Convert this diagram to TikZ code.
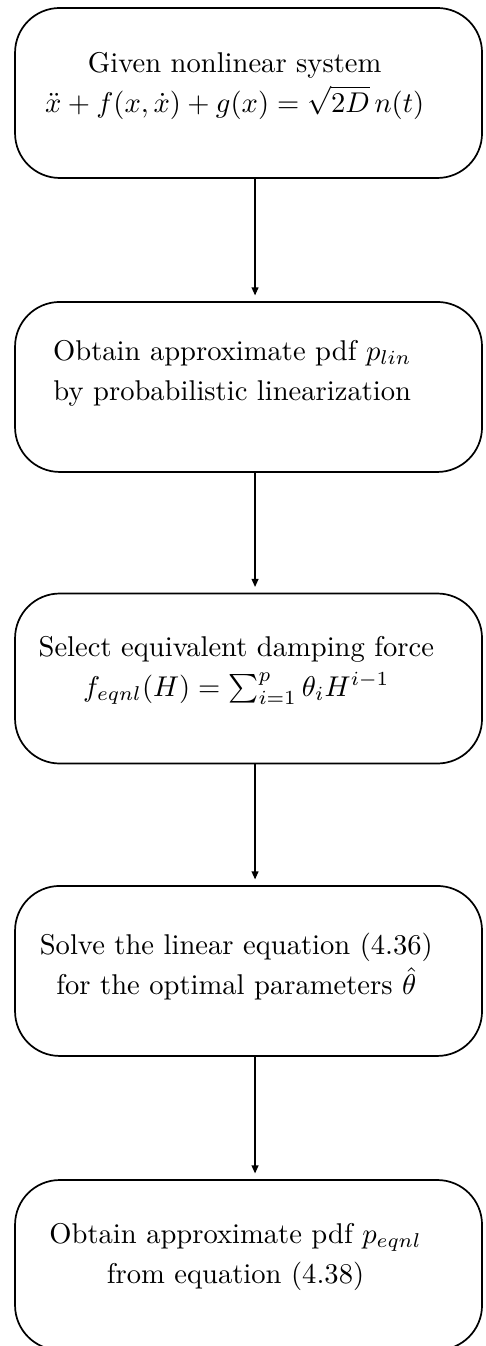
\documentclass[tikz,border=0pt]{standalone}
\usepackage{amsmath,amssymb}
\usepackage{tikz}
\usetikzlibrary{arrows.meta}

\begin{document}
\begin{tikzpicture}[>={Triangle[length=2.8pt,width=2.4pt]},
  stepbox/.style={draw,line width=0.6pt,rounded corners=0.55cm,minimum width=5.744cm,minimum height=2.091cm,inner sep=0pt},
  steptext/.style={align=center,inner sep=0pt,font=\fontsize{10}{14}\selectfont},
  flow/.style={->,line width=0.45pt,shorten >=2pt}]
\useasboundingbox (0,0) rectangle (5.966,16.556);
\node[stepbox] (given) at (3.057,15.412) {};
\node[stepbox] (lin) at (3.057,11.796) {};
\node[stepbox] (select) at (3.057,8.21) {};
\node[stepbox] (solve) at (3.057,4.613) {};
\node[stepbox] (eqnl) at (3.057,0.996) {};
\node[steptext] (giventxt) at ([xshift=-0.17cm,yshift=0.09cm]given.center)
  {Given nonlinear system\\ $\ddot{x}+f(x,\dot{x})+g(x)=\sqrt{2D}\,n(t)$};
\node[steptext] (lintxt) at ([xshift=-0.2cm,yshift=0.17cm]lin.center)
  {Obtain approximate pdf $p_{lin}$\\ by probabilistic linearization};
\node[steptext] (selecttxt) at ([xshift=-0.15cm,yshift=0.1cm]select.center)
  {Select equivalent damping force\\ $f_{eqnl}(H)=\sum_{i=1}^{p}\theta_iH^{i-1}$};
\node[steptext] (solvetxt) at ([xshift=-0.15cm,yshift=0.05cm]solve.center)
  {Solve the linear equation (4.36)\\ for the optimal parameters $\hat{\theta}$};
\node[steptext] (eqnltxt) at ([xshift=-0.16cm,yshift=0.1cm]eqnl.center)
  {Obtain approximate pdf $p_{eqnl}$\\ from equation (4.38)};
\draw[flow] ([xshift=0.08cm]given.south) -- ([xshift=0.08cm]lin.north);
\draw[flow] ([xshift=0.08cm]lin.south) -- ([xshift=0.08cm]select.north);
\draw[flow] ([xshift=0.08cm]select.south) -- ([xshift=0.08cm]solve.north);
\draw[flow] ([xshift=0.08cm]solve.south) -- ([xshift=0.08cm]eqnl.north);
\end{tikzpicture}
\end{document}
